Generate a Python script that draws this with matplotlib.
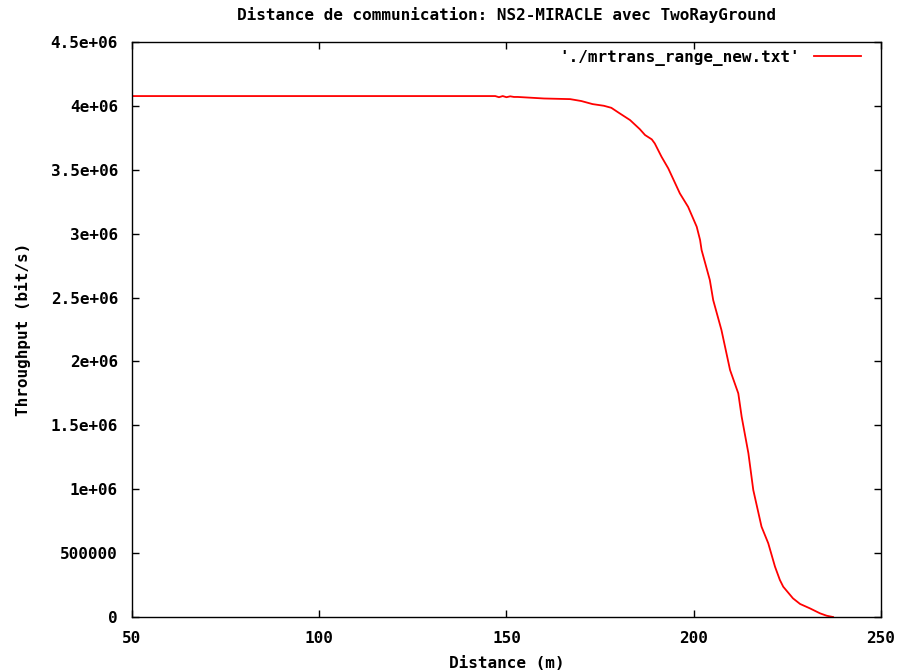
import matplotlib
matplotlib.use("Agg")
import matplotlib.pyplot as plt

# distance (m) and throughput (bit/s)
distance = [50, 100, 140, 147, 148, 149, 150, 151, 152, 153, 160, 167, 170, 173,
            176, 178, 180, 183, 185.6, 187, 188.8, 189.6, 191.4, 193.2, 196.3,
            198.5, 200.8, 201.7, 202.1, 204.3, 205.2, 207.4, 209.7, 211.9,
            212.8, 214.6, 215.9, 218.1, 219.9, 221.7, 223.0, 223.9, 226.5,
            228.4, 231.0, 233.7, 235.5, 237.2]
throughput = [4.077e6, 4.077e6, 4.077e6, 4.077e6, 4.068e6, 4.077e6, 4.068e6,
              4.075e6, 4.070e6, 4.070e6, 4.058e6, 4.053e6, 4.038e6, 4.014e6,
              4.001e6, 3.985e6, 3.946e6, 3.889e6, 3.818e6, 3.772e6, 3.738e6,
              3.706e6, 3.602e6, 3.511e6, 3.315e6, 3.210e6, 3.054e6, 2.950e6,
              2.872e6, 2.637e6, 2.480e6, 2.246e6, 1.933e6, 1.750e6, 1.567e6,
              1.281e6, 0.994e6, 0.707e6, 0.577e6, 0.394e6, 0.290e6, 0.237e6,
              0.146e6, 0.102e6, 0.068e6, 0.029e6, 0.010e6, 0.0]

x_ticks = [50, 100, 150, 200, 250]
y_ticks = [0, 5e5, 1e6, 1.5e6, 2e6, 2.5e6, 3e6, 3.5e6, 4e6, 4.5e6]
y_labels = ["0", "500000", "1e+06", "1.5e+06", "2e+06", "2.5e+06",
            "3e+06", "3.5e+06", "4e+06", "4.5e+06"]

plt.rcParams["font.family"] = ["DejaVu Sans Mono"]
plt.rcParams["font.weight"] = "bold"
plt.rcParams["font.size"] = 11.5

fig = plt.figure(figsize=(9.02, 6.70), dpi=100)
ax = fig.add_axes([0.1463, 0.0791, 0.8304, 0.8582])

ax.plot(distance, throughput, color="red", lw=1.3,
        label="'./mrtrans_range_new.txt'")

ax.set_xlim(50, 250)
ax.set_ylim(0, 4.5e6)
ax.set_xticks(x_ticks)
ax.set_xticklabels([str(t) for t in x_ticks])
ax.set_yticks(y_ticks)
ax.set_yticklabels(y_labels)
ax.tick_params(direction="in", length=5, width=1, top=True, right=True,
               pad=10, labelsize=11.5)
for s in ax.spines.values():
    s.set_linewidth(1)

ax.set_title("Distance de communication: NS2-MIRACLE avec TwoRayGround",
             fontsize=11.5, fontweight="bold", pad=16)
ax.set_xlabel("Distance (m)", fontweight="bold", labelpad=7)
ax.set_ylabel("Throughput (bit/s)", fontweight="bold", labelpad=14)

ax.legend(loc="upper right", bbox_to_anchor=(0.988, 1.006), frameon=False,
          markerfirst=False, handlelength=2.9, handletextpad=0.9,
          borderaxespad=0.3, fontsize=11.5)

fig.savefig("out.png", dpi=100)
